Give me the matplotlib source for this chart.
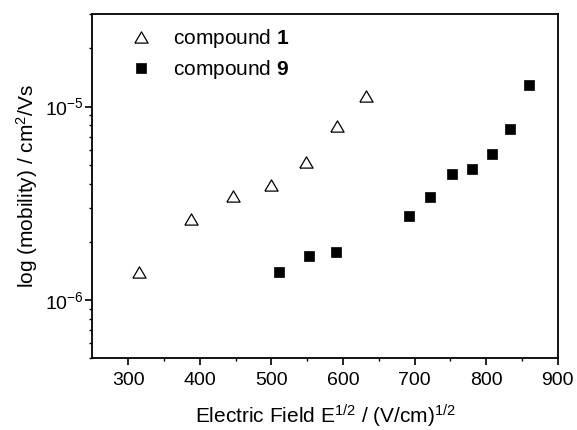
import matplotlib
matplotlib.use("Agg")
import matplotlib.pyplot as plt
from matplotlib.ticker import LogLocator, FixedLocator, NullFormatter

plt.rcParams["font.family"] = ["Liberation Sans", "DejaVu Sans"]
plt.rcParams["mathtext.fontset"] = "custom"
plt.rcParams["mathtext.rm"] = "Liberation Sans"
plt.rcParams["mathtext.it"] = "Liberation Sans"
plt.rcParams["mathtext.bf"] = "Liberation Sans:bold"
plt.rcParams["mathtext.default"] = "regular"

# compound 1 (open triangles)
field_1 = [315, 388, 447, 500, 548, 592, 632]
mobility_1 = [1.40e-6, 2.62e-6, 3.44e-6, 3.95e-6, 5.18e-6, 7.97e-6, 1.13e-5]

# compound 9 (filled squares)
field_9 = [510, 552, 590, 692, 722, 752, 780, 808, 834, 860]
mobility_9 = [1.40e-6, 1.69e-6, 1.775e-6, 2.72e-6, 3.42e-6, 4.51e-6,
              4.78e-6, 5.72e-6, 7.69e-6, 1.29e-5]

x_ticks = [300, 400, 500, 600, 700, 800, 900]
x_minor = [350, 450, 550, 650, 750, 850]

# slightly flattened triangle, like the reference symbol
tri = [(-1, -0.85), (1, -0.85), (0, 0.85), (-1, -0.85)]

fig = plt.figure(figsize=(5.77, 4.30), dpi=100)
ax = fig.add_axes([0.1603, 0.1667, 0.8063, 0.80])

ax.plot(field_1, mobility_1, linestyle="none", marker=tri, markersize=9.5,
        markerfacecolor="white", markeredgecolor="black", markeredgewidth=0.9,
        label="compound $\\mathbf{1}$")
ax.plot(field_9, mobility_9, linestyle="none", marker="s", markersize=7,
        markerfacecolor="black", markeredgecolor="black", markeredgewidth=0.5,
        label="compound $\\mathbf{9}$")

ax.set_yscale("log")
ax.set_xlim(250, 900)
ax.set_ylim(5e-7, 3e-5)

ax.xaxis.set_major_locator(FixedLocator(x_ticks))
ax.xaxis.set_minor_locator(FixedLocator(x_minor))
ax.yaxis.set_major_locator(LogLocator(base=10, numticks=10))
ax.yaxis.set_minor_locator(LogLocator(base=10, subs=range(2, 10), numticks=20))
ax.yaxis.set_minor_formatter(NullFormatter())

for s in ax.spines.values():
    s.set_linewidth(1.3)
ax.tick_params(which="major", direction="out", length=5, width=1.2, labelsize=14)
ax.tick_params(which="minor", direction="out", length=2.5, width=1.0)
ax.tick_params(axis="x", which="major", pad=5)
ax.tick_params(axis="y", which="major", pad=1.5)

ax.set_xlabel("Electric Field E$^{1/2}$ / (V/cm)$^{1/2}$", fontsize=15, labelpad=10)
ax.set_ylabel("log (mobility) / cm$^{2}$/Vs", fontsize=15, labelpad=3)

ax.legend(loc="upper left", bbox_to_anchor=(0.059, 0.962), frameon=False,
          fontsize=15, handlelength=2.0, handletextpad=0.54, labelspacing=0.38,
          borderpad=0, borderaxespad=0)

fig.savefig("out.png", dpi=100)
